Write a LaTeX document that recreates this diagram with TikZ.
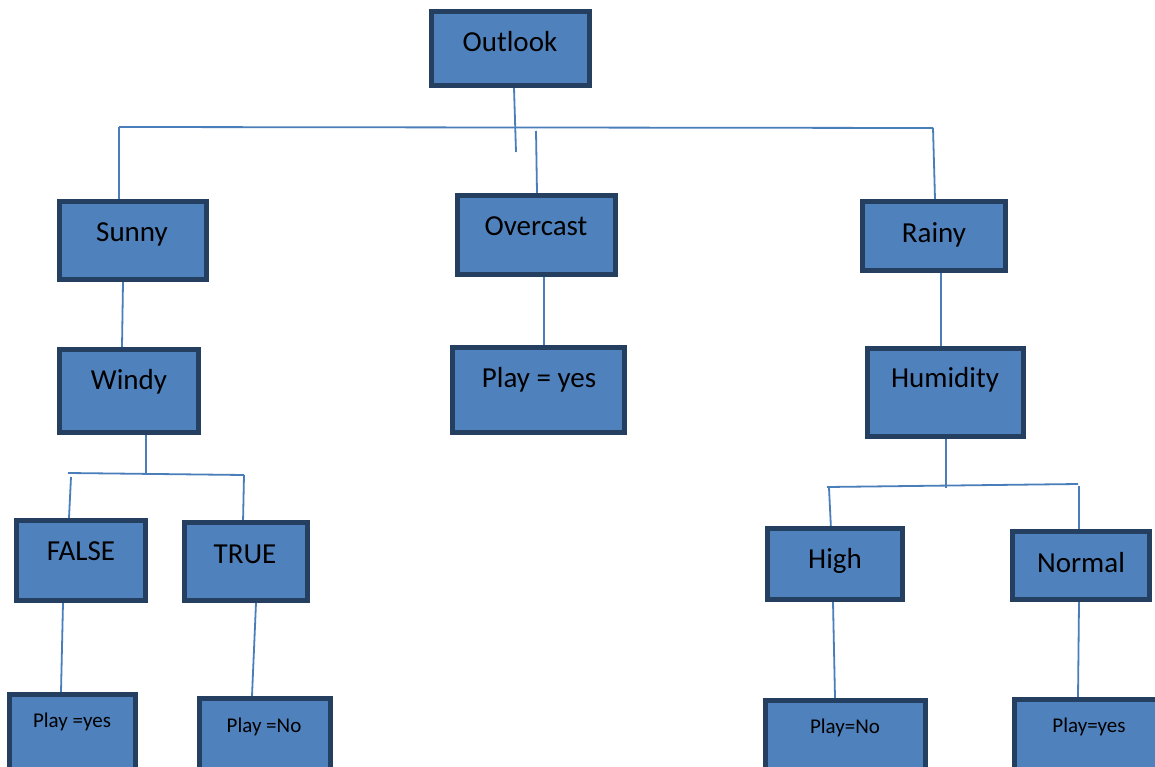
\documentclass[tikz,border=0pt]{standalone}
\usepackage{fontspec}
\setmainfont{Carlito}
\usetikzlibrary{backgrounds}
\definecolor{boxfill}{HTML}{4F81BD}
\definecolor{boxline}{HTML}{243F60}
\definecolor{connline}{HTML}{4A7EBB}
\tikzset{
  box/.style={draw=boxline, fill=boxfill, line width=5pt, inner sep=0pt},
  lbl/.style={anchor=base, inner sep=0pt, font=\fontsize{29}{34}\selectfont},
  slbl/.style={anchor=base, inner sep=0pt, font=\fontsize{21}{25}\selectfont},
  conn/.style={draw=connline, line width=1.8pt}
}
\begin{document}
\begin{tikzpicture}[x=1pt,y=-1pt]
\clip (0,0) rectangle (1155,767);
% boxes
\node[box, minimum width=158, minimum height=74] (outlook) at (510.5,48.5) {};
\node[box, minimum width=147, minimum height=78] (sunny) at (133,240.5) {};
\node[box, minimum width=158, minimum height=79] (overcast) at (536.5,235) {};
\node[box, minimum width=143, minimum height=69] (rainy) at (934,236) {};
\node[box, minimum width=139, minimum height=83] (windy) at (129,391) {};
\node[box, minimum width=172, minimum height=85] (playO) at (538.5,390) {};
\node[box, minimum width=156, minimum height=88] (humidity) at (945.5,392.5) {};
\node[box, minimum width=129, minimum height=80] (false) at (81,560.5) {};
\node[box, minimum width=123, minimum height=78] (true) at (246,561.5) {};
\node[box, minimum width=135, minimum height=71] (high) at (835,564) {};
\node[box, minimum width=137, minimum height=68] (normal) at (1081,565.5) {};
\node[box, minimum width=126, minimum height=93] (leaf1) at (72.5,741) {};
\node[box, minimum width=131, minimum height=89] (leaf2) at (265,743) {};
\node[box, minimum width=160, minimum height=87] (leaf3) at (845.5,744) {};
\node[box, minimum width=158, minimum height=88] (leaf4) at (1093.5,743.5) {};
% labels
\node[lbl] (outlook-t) at (510,52) {Outlook};
\node[lbl] (sunny-t) at (132,241) {Sunny};
\node[lbl] (overcast-t) at (536,236) {Overcast};
\node[lbl] (rainy-t) at (934,243) {Rainy};
\node[lbl] (windy-t) at (129,389) {Windy};
\node[lbl] (playO-t) at (539,387) {Play = yes};
\node[lbl] (humidity-t) at (945,387) {Humidity};
\node[lbl] (false-t) at (81,560) {FALSE};
\node[lbl] (true-t) at (245,563) {TRUE};
\node[lbl] (high-t) at (835,568) {High};
\node[lbl] (normal-t) at (1081,572) {Normal};
\node[slbl] (leaf1-t) at (72,727) {Play =yes};
\node[slbl] (leaf2-t) at (264,732) {Play =No};
\node[slbl] (leaf3-t) at (845,733) {Play=No};
\node[slbl] (leaf4-t) at (1089,732) {Play=yes};
% junction coordinates
\coordinate (j1) at (516,152);
\coordinate (h1l) at (119,127);
\coordinate (h1r) at (933,128);
\coordinate (oc1) at (536,131);
\coordinate (j2) at (146,473);
\coordinate (h2l) at (68,473);
\coordinate (h2r) at (244,475);
\coordinate (f1) at (71,477);
\coordinate (j3) at (946,488);
\coordinate (h3l) at (827,487);
\coordinate (h3r) at (1078,484);
\coordinate (hi1) at (829,488);
\coordinate (no1) at (1079,486);
\begin{scope}[on background layer]
\fill[white] (0,0) rectangle (1155,767);
\draw[conn] ([xshift=3.5pt]outlook.south) -- (j1);
\draw[conn] (h1l) -- (h1r);
\draw[conn] (h1l) -- ([xshift=-14pt,yshift=-3pt]sunny.north);
\draw[conn] (oc1) -- ([xshift=0.5pt]overcast.north);
\draw[conn] (h1r) -- ([xshift=1pt]rainy.north);
\draw[conn] ([xshift=-10pt]sunny.south) -- ([xshift=-7pt]windy.north);
\draw[conn] ([xshift=17pt]windy.south) -- (j2);
\draw[conn] (h2l) -- (h2r);
\draw[conn] (f1) -- ([xshift=-12pt]false.north);
\draw[conn] (h2r) -- ([xshift=-3pt,yshift=-3pt]true.north);
\draw[conn] ([xshift=-18pt]false.south) -- ([xshift=-11.5pt]leaf1.north);
\draw[conn] ([xshift=10pt]true.south) -- ([xshift=-13pt]leaf2.north);
\draw[conn] ([xshift=7.5pt]overcast.south) -- ([xshift=5.5pt]playO.north);
\draw[conn] ([xshift=7pt]rainy.south) -- ([xshift=-4.5pt]humidity.north);
\draw[conn] ([xshift=0.5pt]humidity.south) -- (j3);
\draw[conn] (h3l) -- (h3r);
\draw[conn] (hi1) -- ([xshift=-4pt,yshift=-3pt]high.north);
\draw[conn] (no1) -- ([xshift=-2pt]normal.north);
\draw[conn] ([xshift=-2pt]high.south) -- ([xshift=-10.5pt]leaf3.north);
\draw[conn] ([xshift=-2pt]normal.south) -- ([xshift=-15.5pt]leaf4.north);
\end{scope}
\end{tikzpicture}
\end{document}
